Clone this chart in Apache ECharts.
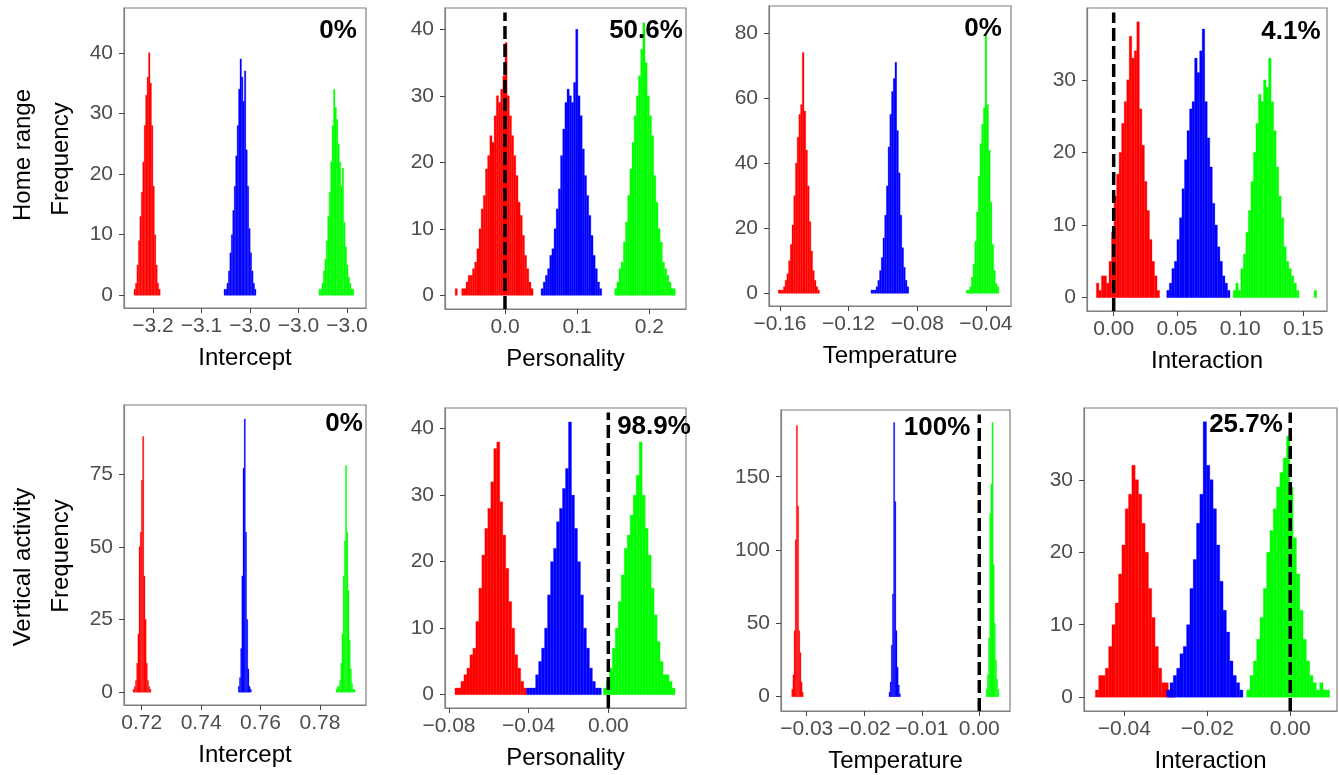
<!DOCTYPE html>
<html><head><meta charset="utf-8">
<script src="https://cdn.jsdelivr.net/npm/echarts@6/dist/echarts.min.js"></script>
<style>html,body{margin:0;padding:0;background:#fff}#c{width:1339px;height:775px}</style>
</head><body><div id="c"></div>
<script>
// ---------------- DATA ----------------
const panelTitles = ['Intercept', 'Personality', 'Temperature', 'Interaction', 'Intercept', 'Personality', 'Temperature', 'Interaction'];
const rowTitles = ['Home range', 'Vertical activity'];
const percentLabels = ['0%', '50.6%', '0%', '4.1%', '0%', '98.9%', '100%', '25.7%'];
const binWidths = [0.0015, 0.003, 0.001, 0.002, 0.0004, 0.0015, 0.0002, 0.0008];

// bin start (left edge of first bin) for red, blue, green
const p1Starts = [-3.2196, -3.1268, -3.0289];
const p2Starts = [-0.069, 0.050, 0.152];
const p3Starts = [-0.161, -0.107, -0.0515];
const p4Starts = [-0.0137, 0.042, 0.0945];
const p5Starts = [0.7171, 0.7525, 0.7854];
const p6Starts = [-0.077, -0.041, -0.0025];
const p7Starts = [-0.0326, -0.0157, 0.0012];
const p8Starts = [-0.047, -0.0298, -0.0105];

const p1Red = [1,2,5,9,13,17,22,28,33,36,40,35,28,18,10,5,2,1];
const p1Blue = [1,1,2,4,7,10,14,18,23,28,34,39,36,32,37,24,18,11,7,4,2,1];
const p1Green = [1,1,2,4,6,9,13,17,22,28,34,31,29,25,22,18,21,12,8,5,3,2,1,1];

const p2Red = [1,0,0,1,1,2,3,3,4,5,7,10,13,15,19,21,24,23,27,30,29,31,33,38,30,27,24,21,18,14,12,9,6,4,2,1];
const p2Blue = [1,2,3,4,6,7,10,13,16,21,25,29,31,30,29,32,40,30,27,22,18,15,12,9,6,4,2,1];
const p2Green = [1,2,4,5,8,11,15,19,23,27,30,33,37,41,35,30,27,24,18,14,10,8,5,4,3,2,1,1];

const p3Red = [1,1,1,2,4,6,10,15,21,30,40,48,55,58,74,56,44,33,22,13,7,4,2,1];
const p3Blue = [1,1,1,2,4,7,11,17,24,33,45,55,62,66,71,50,37,24,14,8,4,2];
const p3Green = [1,1,2,5,9,16,25,36,46,52,57,80,58,44,28,15,7,3,2];

const p4Red = [2,1,3,3,2,5,9,14,17,20,24,27,30,36,33,34,38,26,21,16,12,8,5,3,1];
const p4Blue = [1,2,4,5,8,11,15,19,23,26,27,33,31,34,37,27,22,18,13,10,7,5,3,2,1];
const p4Green = [1,2,1,4,6,9,12,16,20,24,28,27,30,29,33,27,23,18,14,11,7,5,4,3,2,1,0,0,0,0,0,0,1];

const p5Red = [1,2,4,10,20,50,55,73,88,40,25,10,4,2,1];
const p5Blue = [2,5,15,40,77,94,55,25,8,2,1];
const p5Green = [1,2,2,4,10,20,40,52,78,55,35,18,8,3,1,1];

const p6Red = [1,1,2,3,4,6,7,11,16,21,25,28,32,37,38,29,24,19,14,10,6,4,2,1];
const p6Blue = [1,1,1,3,5,7,10,15,20,22,26,28,31,34,41,30,25,20,15,10,7,4,2,1,1];
const p6Green = [1,2,4,7,10,14,18,22,24,27,30,33,38,30,25,21,16,12,8,5,3,3,2,1];

const p7Red = [5,15,45,107,185,130,45,30,10,3];
const p7Blue = [3,10,35,70,187,133,45,20,8,2];
const p7Green = [5,15,40,125,145,187,90,50,25,12,5];

const p8Red = [1,3,3,4,7,10,13,17,21,26,28,32,30,28,24,20,15,11,7,4,2,2,1,1];
const p8Blue = [1,2,3,4,6,7,10,15,19,24,28,38,32,30,26,21,16,12,9,5,3,2,1];
const p8Green = [1,3,5,8,11,15,20,23,26,29,31,33,36,29,22,17,12,8,5,3,2,1,2,1,1];

// tick values and labels
const p1XTicks = [-3.2, -3.15, -3.1, -3.05, -3.0];
const p1XLabels = ['\u22123.2', '\u22123.1', '\u22123.0', '\u22123.0', '\u22123.0'];
const p2XTicks = [0, 0.1, 0.2];
const p2XLabels = ['0.0', '0.1', '0.2'];
const p3XTicks = [-0.16, -0.12, -0.08, -0.04];
const p3XLabels = ['\u22120.16', '\u22120.12', '\u22120.08', '\u22120.04'];
const p4XTicks = [0, 0.05, 0.1, 0.15];
const p4XLabels = ['0.00', '0.05', '0.10', '0.15'];
const p5XTicks = [0.72, 0.74, 0.76, 0.78];
const p5XLabels = ['0.72', '0.74', '0.76', '0.78'];
const p6XTicks = [-0.08, -0.04, 0];
const p6XLabels = ['\u22120.08', '\u22120.04', '0.00'];
const p7XTicks = [-0.03, -0.02, -0.01, 0];
const p7XLabels = ['\u22120.03', '\u22120.02', '\u22120.01', '0.00'];
const p8XTicks = [-0.04, -0.02, 0];
const p8XLabels = ['\u22120.04', '\u22120.02', '0.00'];

const p1YTicks = [0, 10, 20, 30, 40];
const p2YTicks = [0, 10, 20, 30, 40];
const p3YTicks = [0, 20, 40, 60, 80];
const p4YTicks = [0, 10, 20, 30];
const p5YTicks = [0, 25, 50, 75];
const p6YTicks = [0, 10, 20, 30, 40];
const p7YTicks = [0, 50, 100, 150];
const p8YTicks = [0, 10, 20, 30];

// axis ranges
const xRanges = [[-3.2299, -2.9804], [-0.0831, 0.2508], [-0.1664, -0.0254], [-0.0211, 0.1687],
                 [0.71404, 0.7955], [-0.082, 0.039], [-0.03447, 0.00534], [-0.04974, 0.01128]];
const yRanges = [[-2.1, 47.4], [-2.06, 43.2], [-3.9, 88.3], [-1.84, 39.9],
                 [-4.4, 98.8], [-2.0, 43.1], [-9.75, 195.5], [-1.9, 39.9]];
const zeroLinePanels = [1, 3, 5, 6, 7];

// ---------------- LAYOUT / STYLE ----------------
const grids = [
  {left: 124, top: 8, width: 242, height: 300},
  {left: 445, top: 8, width: 241, height: 301},
  {left: 769, top: 6, width: 242, height: 300},
  {left: 1087, top: 8, width: 240, height: 303},
  {left: 124, top: 405, width: 242, height: 300},
  {left: 445, top: 408, width: 241, height: 300},
  {left: 781, top: 410, width: 229, height: 301},
  {left: 1084, top: 408, width: 253, height: 303}
];
const pctPos = [[338, 31], [646, 31], [983, 29], [1291, 32], [344, 424], [654, 427], [937, 428], [1246, 425]];
const COLORS = ['#ff0000', '#0000ff', '#00ff00'];
const FONT = '"Liberation Sans", Arial, sans-serif';
const BORDER = '#7f7f7f';

const allStarts = [p1Starts, p2Starts, p3Starts, p4Starts, p5Starts, p6Starts, p7Starts, p8Starts];
const allCounts = [[p1Red, p1Blue, p1Green], [p2Red, p2Blue, p2Green], [p3Red, p3Blue, p3Green], [p4Red, p4Blue, p4Green],
                   [p5Red, p5Blue, p5Green], [p6Red, p6Blue, p6Green], [p7Red, p7Blue, p7Green], [p8Red, p8Blue, p8Green]];
const allXTicks = [p1XTicks, p2XTicks, p3XTicks, p4XTicks, p5XTicks, p6XTicks, p7XTicks, p8XTicks];
const allXLabels = [p1XLabels, p2XLabels, p3XLabels, p4XLabels, p5XLabels, p6XLabels, p7XLabels, p8XLabels];
const allYTicks = [p1YTicks, p2YTicks, p3YTicks, p4YTicks, p5YTicks, p6YTicks, p7YTicks, p8YTicks];

function labelFor(ticks, labels) {
  return function (v) {
    for (let i = 0; i < ticks.length; i++) if (Math.abs(ticks[i] - v) < 1e-9) return labels[i];
    return '';
  };
}

function histSeries(gi, start, bw, counts, color) {
  const data = counts.map((c, i) => [start + i * bw, start + (i + 1) * bw, c]);
  return {
    type: 'custom', xAxisIndex: gi, yAxisIndex: gi, data: data, silent: true, clip: true,
    encode: {x: [0, 1], y: 2}, z: 2,
    renderItem: function (params, api) {
      if (!(api.value(2) > 0)) return null;
      const a = api.coord([api.value(0), api.value(2)]);
      const b = api.coord([api.value(1), 0]);
      return {type: 'rect', shape: {x: a[0], y: a[1], width: b[0] - a[0], height: b[1] - a[1]},
              style: {fill: color, stroke: color, lineWidth: 0.3}};
    }
  };
}

const option = {
  animation: false,
  backgroundColor: '#ffffff',
  textStyle: {fontFamily: FONT},
  grid: [], xAxis: [], yAxis: [], series: [], graphic: []
};

for (let i = 0; i < 8; i++) {
  option.grid.push(Object.assign({show: true, borderColor: BORDER, borderWidth: 1.2, backgroundColor: 'transparent'}, grids[i]));
  option.xAxis.push({
    type: 'value', gridIndex: i, min: xRanges[i][0], max: xRanges[i][1], position: 'bottom',
    axisLine: {show: true, onZero: false, lineStyle: {color: BORDER, width: 1.2}}, splitLine: {show: false},
    axisTick: {show: true, inside: false, length: 5, lineStyle: {color: '#444', width: 1}, customValues: allXTicks[i]},
    axisLabel: {customValues: allXTicks[i], formatter: labelFor(allXTicks[i], allXLabels[i]),
                color: '#4d4d4d', fontSize: 21, margin: 8, fontFamily: FONT},
    name: panelTitles[i], nameLocation: 'middle', nameGap: 38,
    nameTextStyle: {fontSize: 24, color: '#000', fontFamily: FONT}
  });
  option.yAxis.push({
    type: 'value', gridIndex: i, min: yRanges[i][0], max: yRanges[i][1], position: 'left',
    axisLine: {show: true, onZero: false, lineStyle: {color: BORDER, width: 1.2}}, splitLine: {show: false},
    axisTick: {show: true, inside: false, length: 5, lineStyle: {color: '#444', width: 1}, customValues: allYTicks[i]},
    axisLabel: {customValues: allYTicks[i], color: '#4d4d4d', fontSize: 21, margin: 11, fontFamily: FONT,
                formatter: v => String(v)}
  });
  for (let k = 0; k < 3; k++) {
    option.series.push(histSeries(i, allStarts[i][k], binWidths[i], allCounts[i][k], COLORS[k]));
  }
  if (zeroLinePanels.indexOf(i) >= 0) {
    option.series.push({
      type: 'line', xAxisIndex: i, yAxisIndex: i, silent: true, symbol: 'none', z: 5,
      data: [[0, yRanges[i][0]], [0, yRanges[i][1] - (yRanges[i][1] - yRanges[i][0]) * 0.015]],
      lineStyle: {color: '#000', width: 3.5, type: [13, 5]}
    });
  }
  option.graphic.push({
    type: 'text', x: pctPos[i][0], y: pctPos[i][1], z: 100,
    style: {text: percentLabels[i], fontSize: 26, fontWeight: 'bold', fill: '#000',
            fontFamily: FONT, align: 'center', verticalAlign: 'middle'}
  });
}

// row / y-axis titles
option.graphic.push(
  {type: 'text', x: 23, y: 155, rotation: Math.PI / 2, z: 100,
   style: {text: rowTitles[0], fontSize: 24, fill: '#000', fontFamily: FONT, align: 'center', verticalAlign: 'middle'}},
  {type: 'text', x: 61, y: 159, rotation: Math.PI / 2, z: 100,
   style: {text: 'Frequency', fontSize: 24, fill: '#000', fontFamily: FONT, align: 'center', verticalAlign: 'middle'}},
  {type: 'text', x: 23, y: 567, rotation: Math.PI / 2, z: 100,
   style: {text: rowTitles[1], fontSize: 24, fill: '#000', fontFamily: FONT, align: 'center', verticalAlign: 'middle'}},
  {type: 'text', x: 61, y: 556, rotation: Math.PI / 2, z: 100,
   style: {text: 'Frequency', fontSize: 24, fill: '#000', fontFamily: FONT, align: 'center', verticalAlign: 'middle'}}
);

const chart = echarts.init(document.getElementById('c'), null, {renderer: 'canvas'});
chart.setOption(option);
</script>
</body></html>
